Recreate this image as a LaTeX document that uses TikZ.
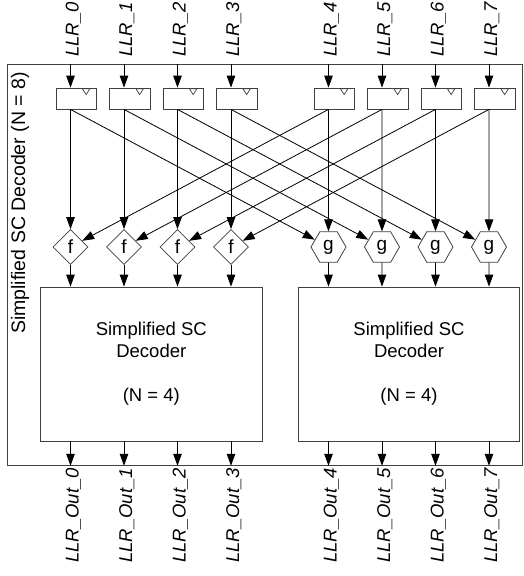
\documentclass[tikz,border=0pt]{standalone}
\usepackage{fontspec}
\setmainfont{Liberation Sans}
\usetikzlibrary{arrows.meta,shapes.geometric,calc}
\begin{document}
\begin{tikzpicture}[x=1pt,y=-1pt,
  font=\fontsize{18.5}{22}\selectfont,
  box/.style={draw=black!75,line width=0.8pt,fill=white,inner sep=0pt},
  regbox/.style={box,minimum width=40.5pt,minimum height=21pt},
  fnode/.style={draw=black!75,line width=0.8pt,fill=white,diamond,aspect=1,
    minimum width=35pt,minimum height=35pt,inner sep=0pt,font=\fontsize{19}{22}\selectfont},
  gnode/.style={draw=black!75,line width=0.8pt,fill=white,regular polygon,regular polygon sides=6,
    minimum size=35pt,inner sep=0pt,font=\fontsize{19}{22}\selectfont},
  decbox/.style={box,minimum width=221.5pt,minimum height=154pt,align=center},
  arr/.style={-{Triangle[width=8.5pt,length=12pt]},line width=0.8pt},
  sig/.style={rotate=90,anchor=base west,inner sep=0pt,font=\fontsize{18.5}{22}\selectfont\itshape}]
\useasboundingbox (0,0) rectangle (524,576);

% outer frame of the N = 8 decoder
\node[draw=black!75,line width=0.8pt,minimum width=515pt,minimum height=401pt,inner sep=0pt,anchor=north west]
  (frame) at (7,64) {};
\node[rotate=90,inner sep=0pt,font=\fontsize{19.5}{22}\selectfont] (title) at (20,203) {Simplified SC Decoder (N = 8)};

% column positions
\foreach \i/\x in {0/70.5,1/124,2/177.5,3/231,4/328.5,5/382,6/435.5,7/489}{
  \coordinate (c\i) at (\x,0);
  % input register with clock mark
  \node[regbox] (r\i) at (\x+5.75,98.5) {};
  \draw[black!75,line width=0.7pt] ($(r\i.north east)+(-14.5,1.2)$) -- ($(r\i.north east)+(-7,1.2)$)
     -- ($(r\i.north east)+(-10.75,7)$) -- cycle;
  % input labels
  \node[sig] (in\i) at (\x+8,57) {LLR\_\i};
  \draw[arr] (c\i |- frame.north) -- (c\i |- r\i.north);
}

% f and g processing nodes
\foreach \i in {0,1,2,3}{
  \path (c\i) ++(0,247) node[fnode] (f\i) {f};
}
\foreach \i/\j in {4/0,5/1,6/2,7/3}{
  \path (c\i) ++(0,247) node[gnode] (g\j) {g};
}

% N = 4 sub-decoders
\node[decbox] (dec1) at (151.3,364) {Simplified SC\\Decoder\\\mbox{}\\(N = 4)};
\node[decbox] (dec2) at (409,364) {Simplified SC\\Decoder\\\mbox{}\\(N = 4)};

% register to f/g connections
\foreach \i/\j in {0/0,1/1,2/2,3/3}{
  \draw[arr] (c\i |- r\i.south) -- (f\i.north);
  \draw[arr] (c\i |- r\i.south) -- (g\j);
  \draw[arr] (f\i.south) -- (c\i |- dec1.north);
  \draw[arr] (c\i |- dec1.south) -- (c\i |- frame.south);
}
\foreach \i/\j in {4/0,5/1,6/2,7/3}{
  \draw[arr] (c\i |- r\i.south) -- (g\j.north);
  \draw[arr] (c\i |- r\i.south) -- (f\j);
  \draw[arr] (g\j.south) -- (c\i |- dec2.north);
  \draw[arr] (c\i |- dec2.south) -- (c\i |- frame.south);
}

% output labels
\foreach \i/\x in {0/70.5,1/124,2/177.5,3/231,4/328.5,5/382,6/435.5,7/489}{
  \node[sig] (out\i) at (\x+8,563) {LLR\_Out\_\i};
}
\end{tikzpicture}
\end{document}
